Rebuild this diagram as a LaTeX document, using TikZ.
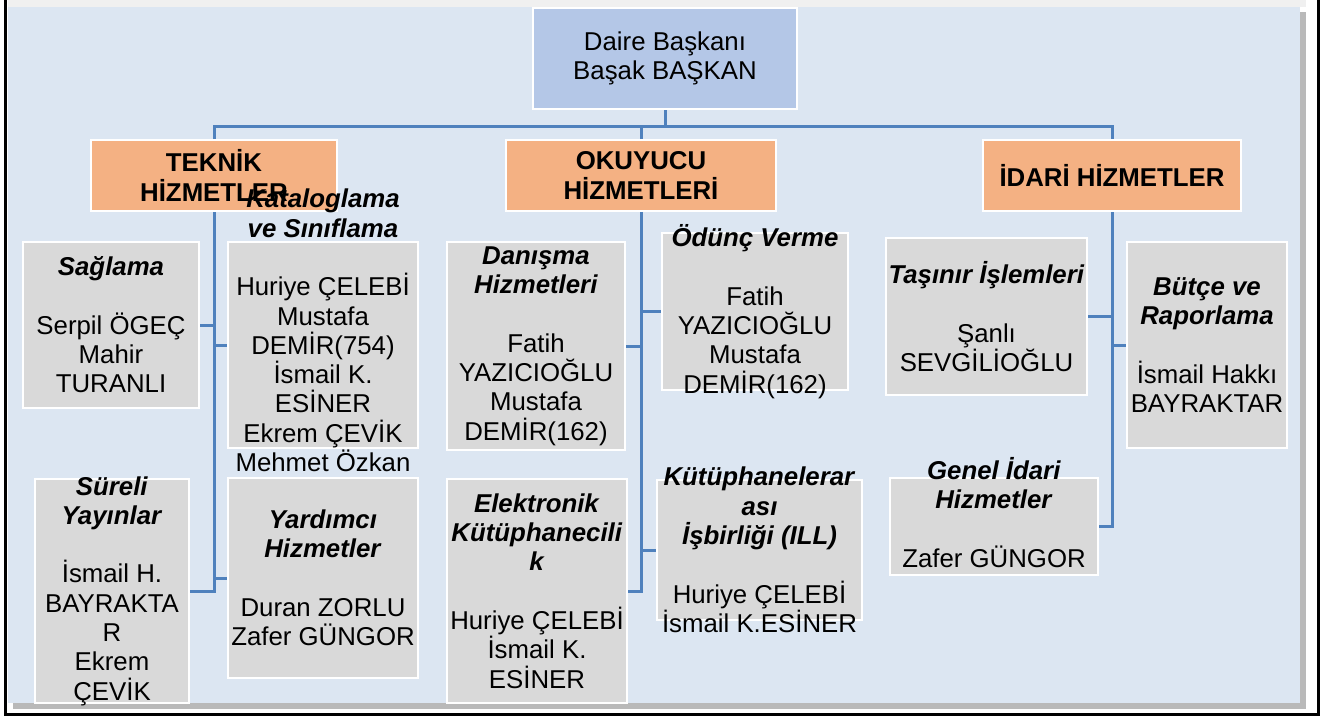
\documentclass[tikz,border=0pt]{standalone}
\usepackage{fontspec}
\setmainfont{Liberation Sans}
\usepackage{tikz}

\definecolor{panelblue}{HTML}{DCE6F2}
\definecolor{bossblue}{HTML}{B4C7E7}
\definecolor{headorange}{HTML}{F4B183}
\definecolor{unitgray}{HTML}{D9D9D9}
\definecolor{linkblue}{HTML}{4F81BD}
\newcommand{\baslik}[1]{\textbf{\textit{#1}}}

\tikzset{
  kutu/.style={draw=white, line width=2pt, inner sep=0pt},
  yazi/.style={align=center, inner sep=0pt, font=\fontsize{25.8}{29.3}\selectfont},
  bossbox/.style={kutu, yazi, fill=bossblue},
  headbox/.style={kutu, yazi, fill=headorange, font=\fontsize{25.8}{30}\selectfont\bfseries},
  unitbox/.style={kutu, fill=unitgray},
  baglanti/.style={draw=linkblue, line width=3pt},
}

\begin{document}
\begin{tikzpicture}[x=1pt,y=-1pt]
\useasboundingbox (0,0) rectangle (1339,717);
\fill[gray!12] (8,0) rectangle (1306,7);
\fill[gray!55] (13,12) rectangle (1306,709);
\fill[panelblue] (8,7) rectangle (1300,703);
\draw[line width=3pt] (5.5,-3) -- (5.5,714) -- (1318,714) -- (1318,-3);

\node[bossbox, minimum width=264pt, minimum height=101pt] (baskan) at (665,58.5) {Daire Başkanı\\Başak BAŞKAN};

\node[headbox, minimum width=246pt, minimum height=71pt] (teknik) at (214,175.5) {TEKNİK\\HİZMETLER};
\node[headbox, minimum width=270pt, minimum height=71pt] (okuyucu) at (641,175.5) {OKUYUCU\\HİZMETLERİ};
\node[headbox, minimum width=258pt, minimum height=71pt] (idari) at (1112,175.5) {İDARİ HİZMETLER};

\node[unitbox, minimum width=176pt, minimum height=166pt] (sagl) at (111,325) {};
\node[unitbox, minimum width=190pt, minimum height=206pt] (katal) at (323,345) {};
\node[unitbox, minimum width=154pt, minimum height=224pt] (sureli) at (112,591) {};
\node[unitbox, minimum width=190pt, minimum height=200pt] (yard) at (323,578) {};
\node[unitbox, minimum width=178pt, minimum height=208pt] (danis) at (536,346) {};
\node[unitbox, minimum width=186pt, minimum height=157pt] (odunc) at (755,311.5) {};
\node[unitbox, minimum width=180pt, minimum height=224pt] (elek) at (537,591) {};
\node[unitbox, minimum width=205pt, minimum height=140pt] (ill) at (759.5,550) {};
\node[unitbox, minimum width=201pt, minimum height=157pt] (tasinir) at (986.5,316.5) {};
\node[unitbox, minimum width=160pt, minimum height=206pt] (butce) at (1207,345) {};
\node[unitbox, minimum width=208pt, minimum height=97pt] (genel) at (994,526.5) {};

\coordinate (bus) at ([yshift=-16pt]baskan.south);
\draw[baglanti] (baskan.south) -- (bus);
\draw[baglanti] (teknik.north) |- (bus) -| (idari.north);
\draw[baglanti] (okuyucu.north) -- (okuyucu.north |- bus);

\draw[baglanti] (teknik.south) |- (sagl.east);
\draw[baglanti] (teknik.south) |- (katal.west);
\draw[baglanti] (teknik.south) |- (sureli.east);
\draw[baglanti] (teknik.south) |- (yard.west);
\draw[baglanti] (okuyucu.south) |- (danis.east);
\draw[baglanti] (okuyucu.south) |- (odunc.west);
\draw[baglanti] (okuyucu.south) |- (elek.east);
\draw[baglanti] (okuyucu.south) |- (ill.west);
\draw[baglanti] (idari.south) |- (tasinir.east);
\draw[baglanti] (idari.south) |- (butce.west);
\draw[baglanti] (idari.south) |- (genel.east);

\node[yazi] (sagl-y) at (sagl) {\baslik{Sağlama}\\[\baselineskip]Serpil ÖGEÇ\\Mahir\\TURANLI};
\node[yazi] (katal-y) at ([yshift=14.5pt]katal.center) {\baslik{Kataloglama}\\\baslik{ve Sınıflama}\\[\baselineskip]Huriye ÇELEBİ\\Mustafa\\DEMİR(754)\\İsmail K.\\ESİNER\\Ekrem ÇEVİK\\Mehmet Özkan};
\node[yazi] (sureli-y) at (sureli) {\baslik{Süreli}\\\baslik{Yayınlar}\\[\baselineskip]İsmail H.\\BAYRAKTA\\R\\Ekrem\\ÇEVİK};
\node[yazi] (yard-y) at (yard) {\baslik{Yardımcı}\\\baslik{Hizmetler}\\[\baselineskip]Duran ZORLU\\Zafer GÜNGOR};
\node[yazi] (danis-y) at (danis) {\baslik{Danışma}\\\baslik{Hizmetleri}\\[\baselineskip]Fatih\\YAZICIOĞLU\\Mustafa\\DEMİR(162)};
\node[yazi] (odunc-y) at (odunc) {\baslik{Ödünç Verme}\\[\baselineskip]Fatih\\YAZICIOĞLU\\Mustafa\\DEMİR(162)};
\node[yazi] (elek-y) at (elek) {\baslik{Elektronik}\\\baslik{Kütüphanecili}\\\baslik{k}\\[\baselineskip]Huriye ÇELEBİ\\İsmail K.\\ESİNER};
\node[yazi] (ill-y) at (ill) {\baslik{Kütüphanelerar}\\\baslik{ası}\\\baslik{İşbirliği (ILL)}\\[\baselineskip]Huriye ÇELEBİ\\İsmail K.ESİNER};
\node[yazi] (tasinir-y) at (tasinir) {\baslik{Taşınır İşlemleri}\\[\baselineskip]Şanlı\\SEVGİLİOĞLU};
\node[yazi] (butce-y) at (butce) {\baslik{Bütçe ve}\\\baslik{Raporlama}\\[\baselineskip]İsmail Hakkı\\BAYRAKTAR};
\node[yazi] (genel-y) at ([yshift=14pt]genel.center) {\baslik{Genel İdari}\\\baslik{Hizmetler}\\[\baselineskip]Zafer GÜNGOR};
\end{tikzpicture}
\end{document}
